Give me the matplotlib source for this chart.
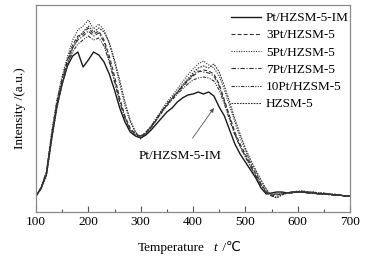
import matplotlib
matplotlib.use("Agg")
import matplotlib.pyplot as plt
from matplotlib.ticker import MultipleLocator, NullLocator

plt.rcParams['font.family'] = ['Liberation Serif', 'DejaVu Serif']

temperature = list(range(100, 701, 10))

pt_im = [16, 24, 38, 74, 106, 128, 146, 156, 160, 145, 152, 160, 157, 150, 138, 122, 104, 90, 80, 76,
         74, 77, 82, 88, 94, 100, 104, 110, 114, 117, 118, 120, 118, 120, 116, 105, 96, 82, 68, 58,
         50, 42, 34, 24, 18, 19, 20, 20, 19, 20, 20, 20, 19, 19, 18, 18, 18, 17, 17, 16, 16]
pt3 = [16, 25, 40, 79, 111, 134, 152, 167, 176, 178, 184, 178, 181, 172, 156, 136, 114, 96, 84, 78,
       75, 79, 85, 92, 100, 107, 113, 119, 125, 131, 136, 140, 142, 141, 138, 128, 112, 96, 80, 68,
       58, 48, 38, 28, 20, 16, 17, 18, 19, 19, 20, 20, 20, 19, 19, 18, 18, 17, 17, 16, 16]
pt5 = [16, 25, 41, 80, 112, 136, 155, 172, 182, 186, 192, 183, 188, 182, 168, 150, 128, 106, 90, 80,
       73, 79, 86, 94, 102, 110, 116, 123, 130, 137, 143, 148, 151, 147, 144, 136, 122, 106, 90, 74,
       62, 50, 40, 30, 22, 16, 15, 17, 19, 20, 21, 21, 20, 20, 19, 19, 18, 17, 17, 16, 16]
pt7 = [16, 24, 39, 77, 109, 132, 150, 164, 172, 176, 181, 176, 179, 170, 152, 132, 110, 94, 82, 78,
       76, 80, 86, 93, 101, 108, 114, 120, 126, 132, 137, 141, 140, 139, 136, 126, 110, 94, 78, 66,
       56, 46, 36, 27, 19, 17, 18, 18, 19, 19, 20, 20, 19, 19, 18, 18, 18, 17, 17, 16, 16]
pt10 = [16, 24, 38, 75, 106, 128, 146, 160, 168, 172, 176, 172, 174, 166, 150, 130, 110, 94, 82, 77,
        76, 79, 85, 92, 99, 106, 112, 118, 123, 128, 132, 134, 135, 134, 131, 122, 108, 92, 77, 65,
        55, 45, 36, 27, 20, 18, 18, 19, 19, 20, 20, 20, 19, 19, 18, 18, 17, 17, 17, 16, 16]
hzsm5 = [16, 23, 36, 72, 104, 128, 148, 164, 174, 180, 186, 180, 184, 180, 170, 152, 132, 110, 92, 80,
         74, 78, 84, 92, 100, 107, 114, 120, 127, 133, 139, 144, 146, 144, 148, 140, 126, 110, 93, 78,
         64, 52, 42, 32, 23, 16, 14, 17, 19, 20, 20, 21, 20, 20, 19, 19, 18, 18, 17, 16, 16]

series = [
    ("Pt/HZSM-5-IM", pt_im, '-', '#1a1a1a', 1.0),
    ("3Pt/HZSM-5", pt3, (0, (3.5, 2)), '#333333', 0.8),
    ("5Pt/HZSM-5", pt5, (0, (1, 1.2)), '#333333', 0.8),
    ("7Pt/HZSM-5", pt7, (0, (4, 1.5, 1, 1.5)), '#333333', 0.8),
    ("10Pt/HZSM-5", pt10, (0, (3, 1.2, 1, 1.2, 1, 1.2)), '#333333', 0.8),
    ("HZSM-5", hzsm5, (0, (1.5, 1)), '#333333', 0.8),
]

FS = 9.5
fig = plt.figure(figsize=(3.67, 2.57), dpi=100)
ax = fig.add_axes([36/367, 1 - 212/257, 314/367, 207/257])

for label, vals, ls, col, lw in series:
    ax.plot(temperature, vals, linestyle=ls, color=col, linewidth=lw, label=label)

ax.set_xlim(100, 700)
ax.set_ylim(0, 207)
ax.xaxis.set_major_locator(MultipleLocator(100))
ax.xaxis.set_minor_locator(MultipleLocator(50))
ax.yaxis.set_major_locator(NullLocator())
ax.tick_params(axis='x', which='major', direction='in', length=4, width=0.8, color='#555555',
               labelsize=FS, pad=3, top=False)
ax.tick_params(axis='x', which='minor', direction='in', length=2.5, width=0.8, color='#555555', top=False)
for s in ax.spines.values():
    s.set_color('#8a8a8a')
    s.set_linewidth(0.9)

ax.set_ylabel("Intensity /(a.u.)", fontsize=FS, labelpad=7)

# x-axis label: "Temperature    t /℃"
fig.text(171/367, 1 - 248/257, "Temperature", fontsize=FS, ha='center', va='center')
fig.text(215/367, 1 - 248/257, "t", fontsize=FS, style='italic', ha='center', va='center')
fig.text(219/367, 1 - 248/257, " /℃", fontsize=FS, ha='left', va='center',
         family=['Liberation Serif', 'DejaVu Sans'])

ax.annotate("Pt/HZSM-5-IM", xy=(440, 212 - 108), xytext=(375, 212 - 156),
            fontsize=FS, ha='center', va='center',
            arrowprops=dict(arrowstyle='-|>', color='#555555', lw=0.6,
                            mutation_scale=6, shrinkA=8, shrinkB=0))

fig.legend(loc='upper left', bbox_to_anchor=(231/367, 1 - 12/257), frameon=False,
           fontsize=FS, handlelength=2.3, handletextpad=0.35, labelspacing=0.38,
           borderpad=0, borderaxespad=0)

fig.savefig("out.png", dpi=100)
